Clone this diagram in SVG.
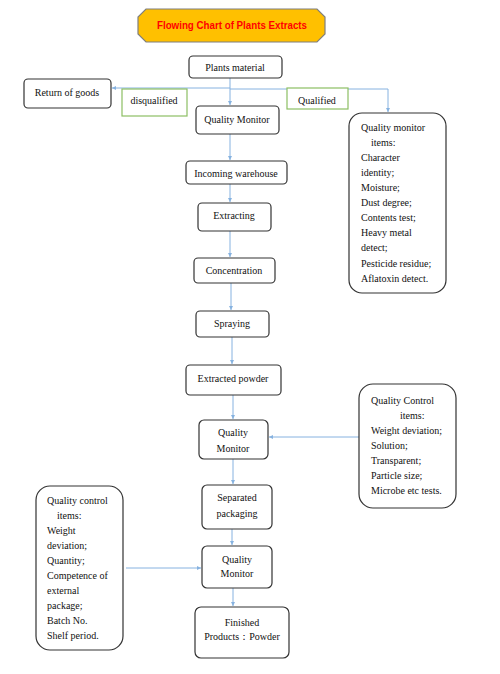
<svg xmlns="http://www.w3.org/2000/svg" width="500" height="674" viewBox="0 0 500 674">
<style>
.box{fill:#fff;stroke:#333;stroke-width:1.2}
.gbox{fill:#fff;stroke:#8cbf63;stroke-width:1.2}
.t{font-family:"Liberation Serif","Times New Roman",serif;font-size:10px;fill:#111}
.c{text-anchor:middle}
.ln{fill:none;stroke:#86b2e0;stroke-width:1}
.title{font-family:"Liberation Sans",Arial,sans-serif;font-size:10.5px;font-weight:bold;fill:#ff0000;text-anchor:middle}
</style>
<defs>
<marker id="ar" viewBox="0 0 6 6" refX="6" refY="3" markerWidth="4" markerHeight="4" orient="auto" markerUnits="userSpaceOnUse">
<path d="M0,0 L6,3 L0,6 z" fill="#86b2e0"/>
</marker>
</defs>
<rect width="500" height="674" fill="#fff"/>
<g id="title">
<polygon points="146,9 317,9 325,17 325,34 317,42 146,42 138,34 138,17" fill="#ffc000" stroke="#7f7f7f" stroke-width="1.2"/>
<text class="title" x="232" y="29" textLength="150" lengthAdjust="spacingAndGlyphs">Flowing Chart of Plants Extracts</text>
</g>
<g id="connectors">
<path class="ln" d="M230,78 V105" marker-end="url(#ar)"/>
<path class="ln" d="M230,88 H112" marker-end="url(#ar)"/>
<path class="ln" d="M230,89 H388 V112" marker-end="url(#ar)"/>
<path class="ln" d="M230,134 V160" marker-end="url(#ar)"/>
<path class="ln" d="M230,184 V202" marker-end="url(#ar)"/>
<path class="ln" d="M230,231 V257" marker-end="url(#ar)"/>
<path class="ln" d="M231,283 V310" marker-end="url(#ar)"/>
<path class="ln" d="M232,337 V364" marker-end="url(#ar)"/>
<path class="ln" d="M233,395 V419" marker-end="url(#ar)"/>
<path class="ln" d="M359,437 H269" marker-end="url(#ar)"/>
<path class="ln" d="M233,459 V484" marker-end="url(#ar)"/>
<path class="ln" d="M232,529 V545" marker-end="url(#ar)"/>
<path class="ln" d="M233,588 V606" marker-end="url(#ar)"/>
<path class="ln" d="M126,568 H201" marker-end="url(#ar)"/>
</g>
<g id="plants-material">
<rect class="box" x="189" y="56" width="93" height="22" rx="4"/>
<text class="t c" x="235" y="71">Plants material</text>
</g>
<g id="return-of-goods">
<rect class="box" x="24" y="79" width="87" height="29" rx="4"/>
<text class="t c" x="67" y="96">Return of goods</text>
</g>
<g id="disqualified">
<rect class="gbox" x="122" y="89" width="65" height="27"/>
<text class="t c" x="154" y="104">disqualified</text>
</g>
<g id="qualified">
<rect class="gbox" x="287" y="88" width="61" height="21"/>
<text class="t c" x="317" y="104">Qualified</text>
</g>
<g id="quality-monitor-1">
<rect class="box" x="196" y="106" width="83" height="28" rx="4"/>
<text class="t c" x="237" y="123">Quality Monitor</text>
</g>
<g id="qm-items-1">
<rect class="box" x="349" y="113" width="97" height="180" rx="13"/>
<text class="t" x="361" y="131">Quality monitor</text>
<text class="t" x="371" y="146">items:</text>
<text class="t" x="361" y="161">Character</text>
<text class="t" x="361" y="176">identity;</text>
<text class="t" x="361" y="191">Moisture;</text>
<text class="t" x="361" y="206">Dust degree;</text>
<text class="t" x="361" y="221">Contents test;</text>
<text class="t" x="361" y="236">Heavy metal</text>
<text class="t" x="361" y="251">detect;</text>
<text class="t" x="361" y="267">Pesticide residue;</text>
<text class="t" x="361" y="282">Aflatoxin detect.</text>
</g>
<g id="incoming-warehouse">
<rect class="box" x="186" y="161" width="101" height="23" rx="4"/>
<text class="t c" x="236" y="177">Incoming warehouse</text>
</g>
<g id="extracting">
<rect class="box" x="198" y="203" width="73" height="28" rx="4"/>
<text class="t c" x="234" y="219">Extracting</text>
</g>
<g id="concentration">
<rect class="box" x="194" y="258" width="81" height="25" rx="4"/>
<text class="t c" x="234" y="274">Concentration</text>
</g>
<g id="spraying">
<rect class="box" x="196" y="311" width="73" height="26" rx="4"/>
<text class="t c" x="232" y="327">Spraying</text>
</g>
<g id="extracted-powder">
<rect class="box" x="186" y="365" width="95" height="30" rx="4"/>
<text class="t c" x="233" y="382">Extracted powder</text>
</g>
<g id="quality-monitor-2">
<rect class="box" x="199" y="420" width="69" height="39" rx="5"/>
<text class="t c" x="233" y="436">Quality</text>
<text class="t c" x="233" y="452">Monitor</text>
</g>
<g id="qc-items-2">
<rect class="box" x="359" y="384" width="97" height="124" rx="14"/>
<text class="t" x="371" y="404">Quality Control</text>
<text class="t" x="400" y="419">items:</text>
<text class="t" x="371" y="434">Weight deviation;</text>
<text class="t" x="371" y="449">Solution;</text>
<text class="t" x="371" y="464">Transparent;</text>
<text class="t" x="371" y="479">Particle size;</text>
<text class="t" x="371" y="494">Microbe etc tests.</text>
</g>
<g id="separated-packaging">
<rect class="box" x="202" y="485" width="70" height="44" rx="5"/>
<text class="t c" x="237" y="501">Separated</text>
<text class="t c" x="237" y="517">packaging</text>
</g>
<g id="quality-monitor-3">
<rect class="box" x="202" y="546" width="70" height="42" rx="5"/>
<text class="t c" x="237" y="563">Quality</text>
<text class="t c" x="237" y="577">Monitor</text>
</g>
<g id="finished-products">
<rect class="box" x="195" y="607" width="94" height="51" rx="6"/>
<text class="t c" x="242" y="626">Finished</text>
<text class="t c" x="242" y="640">Products：Powder</text>
</g>
<g id="qc-items-3">
<rect class="box" x="36" y="486" width="87" height="164" rx="14"/>
<text class="t" x="47" y="504">Quality control</text>
<text class="t" x="57" y="519">items:</text>
<text class="t" x="47" y="534">Weight</text>
<text class="t" x="47" y="549">deviation;</text>
<text class="t" x="47" y="564">Quantity;</text>
<text class="t" x="47" y="579">Competence of</text>
<text class="t" x="47" y="594">external</text>
<text class="t" x="47" y="609">package;</text>
<text class="t" x="47" y="624">Batch No.</text>
<text class="t" x="47" y="639">Shelf period.</text>
</g>
</svg>
